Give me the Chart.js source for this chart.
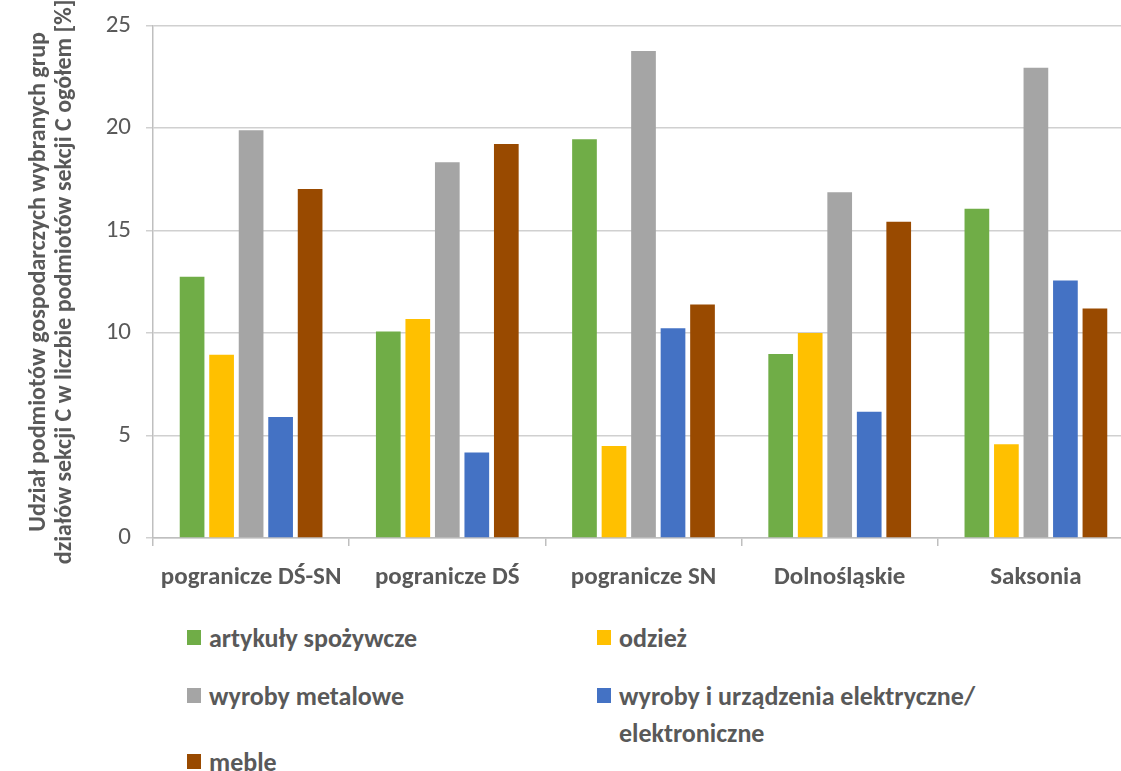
<!DOCTYPE html>
<html>
<head>
<meta charset="utf-8">
<script src="https://cdn.jsdelivr.net/npm/chart.js@4"></script>
<style>
  html, body { margin: 0; padding: 0; background: #fff; overflow: hidden; }
  body { width: 1121px; height: 771px; position: relative; }
  #wrap { position: absolute; left: 0; top: 0; width: 1140px; height: 600px; }
  #legend {
    position: absolute; left: 187px; top: 620px;
    display: grid; grid-template-columns: 410px 420px;
    grid-template-rows: 58px 66px 30px;
    font-family: Carlito, Lato, sans-serif; font-weight: bold; font-size: 26px; color: #595959;
  }
  .item { display: flex; align-items: flex-start; line-height: 37px; }
  .box { width: 14px; height: 15px; margin-top: 10px; margin-right: 8px; flex: none; }
  .txt { max-width: 405px; }
</style>
</head>
<body>
<div id="wrap"><canvas id="chart"></canvas></div>
<div id="legend"></div>
<script>
// regions and the share of the selected manufacturing groups [%]
const categories = ['pogranicze DŚ-SN', 'pogranicze DŚ', 'pogranicze SN', 'Dolnośląskie', 'Saksonia'];
const seriesNames = ['artykuły spożywcze', 'odzież', 'wyroby metalowe', 'wyroby i urządzenia elektryczne/ elektroniczne', 'meble'];
const seriesColors = ['#70AD47', '#FFC000', '#A5A5A5', '#4472C4', '#994A00'];

const foodValues = [12.75, 10.07, 19.46, 8.98, 16.07];
const clothesValues = [8.94, 10.68, 4.49, 10.0, 4.57];
const metalValues = [19.9, 18.33, 23.76, 16.87, 22.94];
const electricValues = [5.9, 4.17, 10.24, 6.16, 12.56];
const furnitureValues = [17.03, 19.23, 11.39, 15.43, 11.2];

const yTicks = [0, 5, 10, 15, 20, 25];
const yTitle = ['Udział podmiotów gospodarczych wybranych grup', 'działów sekcji C w liczbie podmiotów sekcji C ogółem [%]'];

const allValues = [foodValues, clothesValues, metalValues, electricValues, furnitureValues];
const FONT = 'Carlito, Lato, sans-serif';

const datasets = allValues.map((vals, i) => ({
    label: seriesNames[i],
    data: vals,
    backgroundColor: seriesColors[i],
    categoryPercentage: 0.752,
    barPercentage: 0.837,
}));

new Chart(document.getElementById('chart'), {
    type: 'bar',
    data: { labels: categories, datasets: datasets },
    options: {
        responsive: true,
        maintainAspectRatio: false,
        animation: false,
        layout: { padding: { top: 0, right: 6, bottom: -10, left: 0 } },
        plugins: { legend: { display: false }, tooltip: { enabled: false } },
        scales: {
            x: {
                grid: { drawOnChartArea: false, tickLength: 8, color: '#bfbfbf', lineWidth: 1.5 },
                border: { color: '#bfbfbf', width: 1.5 },
                ticks: { color: '#595959', padding: 17, maxRotation: 0, autoSkip: false, font: { family: FONT, size: 25, weight: 'bold' } },
            },
            y: {
                min: yTicks[0],
                max: yTicks[yTicks.length - 1],
                afterBuildTicks: (scale) => { scale.ticks = yTicks.map(v => ({ value: v })); },
                afterFit: (scale) => { scale.width = 153; },
                grid: { color: '#d0d0d0', lineWidth: 1.5, tickLength: 7 },
                border: { color: '#bfbfbf', width: 1.5 },
                ticks: { color: '#595959', padding: 15, font: { family: FONT, size: 25, lineHeight: 0.85 } },
                title: {
                    display: true,
                    text: yTitle,
                    color: '#595959',
                    padding: { top: 26, bottom: 0 },
                    font: { family: FONT, size: 24, weight: 'bold', lineHeight: 1.08 },
                },
            },
        },
    },
});

// legend in two columns like the original
const legend = document.getElementById('legend');
seriesNames.forEach((name, i) => {
    const item = document.createElement('div');
    item.className = 'item';
    item.innerHTML = `<span class="box" style="background:${seriesColors[i]}"></span><span class="txt">${name}</span>`;
    legend.appendChild(item);
});
</script>
</body>
</html>
